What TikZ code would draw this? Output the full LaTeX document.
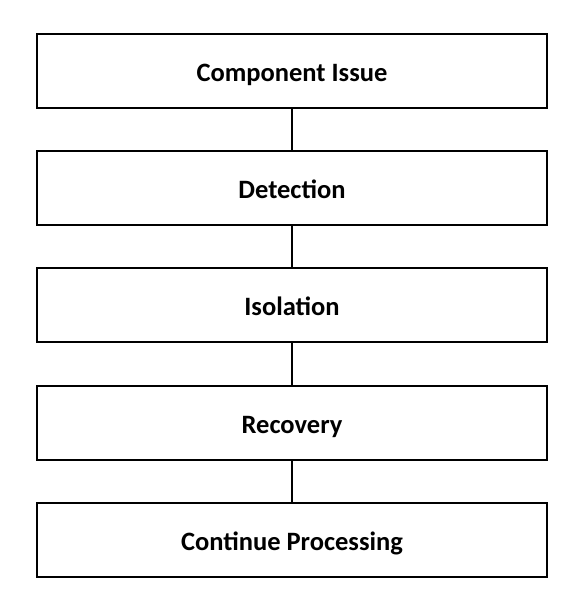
\documentclass[tikz,border=0pt]{standalone}
\usepackage{fontspec}
\setmainfont{Carlito}
\begin{document}
\begin{tikzpicture}[x=1pt,y=1pt,
  stepbox/.style={draw=black,line width=1.4pt,minimum width=510pt,minimum height=74pt,inner sep=0pt,text height=25pt,text depth=4pt,font=\fontsize{26.5}{30}\selectfont\bfseries},
  link/.style={draw=black,line width=1.4pt}]
\useasboundingbox (0,0) rectangle (580,612);
\node[stepbox] (a) at (292,541) {Component Issue};
\node[stepbox] (b) at (292,424) {Detection};
\node[stepbox] (c) at (292,307) {Isolation};
\node[stepbox] (d) at (292,189) {Recovery};
\node[stepbox] (e) at (292,72) {Continue Processing};
\draw[link] (a) -- (b);
\draw[link] (b) -- (c);
\draw[link] (c) -- (d);
\draw[link] (d) -- (e);
\end{tikzpicture}
\end{document}
